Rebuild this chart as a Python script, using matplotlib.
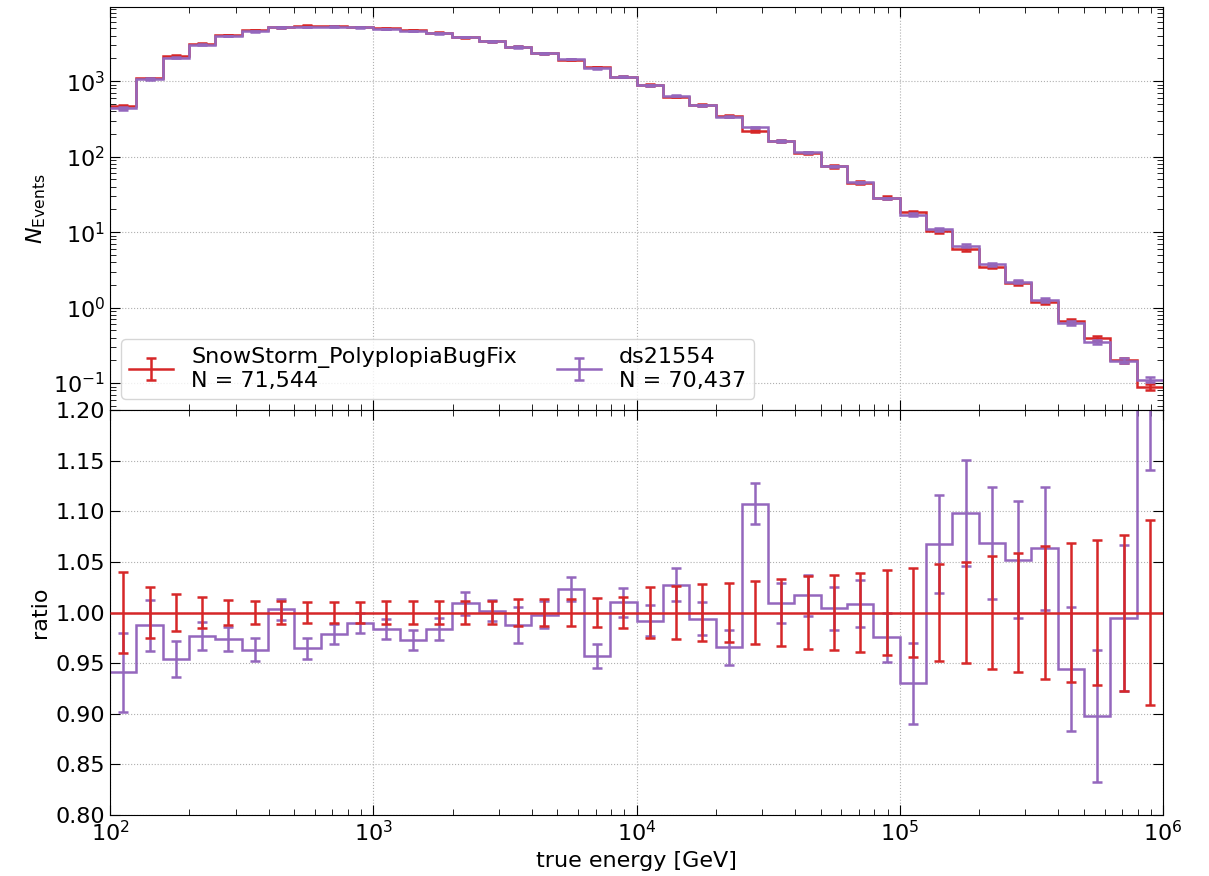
import numpy as np
import matplotlib.pyplot as plt

# binning: 10 bins per decade, 1e2 - 1e6 GeV
edges = np.logspace(2, 6, 41)
centers = np.sqrt(edges[:-1] * edges[1:])

labels = ['SnowStorm_PolyplopiaBugFix\nN = 71,544', 'ds21554\nN = 70,437']

# event counts per bin
counts_ref = [465, 1085, 2150, 3110, 4080, 4750, 5150, 5420, 5360, 5200,
              5000, 4750, 4390, 3800, 3375, 2875, 2350, 1920, 1540, 1140,
              887, 624, 485, 348, 221, 160, 112, 74, 45.2, 28.6,
              18.2, 10.2, 6.0, 3.5, 2.1, 1.2, 0.665, 0.392, 0.200, 0.0894]
counts_ds = [437.6, 1071.4, 2051.1, 3038.5, 3973.9, 4576.6, 5165.5, 5227.6, 5247.4, 5148,
             4920, 4621.8, 4319.8, 3834.2, 3381.8, 2839.1, 2345.3, 1964.2, 1473.8, 1151.4,
             879.9, 641.2, 482.1, 336.0, 244.8, 161.5, 113.9, 74.3, 45.6, 27.9,
             16.93, 10.89, 6.59, 3.74, 2.21, 1.276, 0.628, 0.352, 0.199, 0.1109]

# relative errors (as seen in the ratio panel, relative to reference)
relerr_ref = [0.040, 0.025, 0.018, 0.015, 0.0125, 0.0115, 0.011, 0.0107, 0.0107, 0.0107,
              0.011, 0.011, 0.0115, 0.0115, 0.011, 0.013, 0.013, 0.013, 0.014, 0.015,
              0.025, 0.026, 0.028, 0.029, 0.031, 0.0335, 0.036, 0.037, 0.039, 0.042,
              0.044, 0.048, 0.050, 0.056, 0.059, 0.066, 0.069, 0.072, 0.077, 0.091]
relerr_ds = [0.039, 0.025, 0.018, 0.014, 0.012, 0.011, 0.0105, 0.010, 0.010, 0.010,
             0.010, 0.010, 0.011, 0.011, 0.0105, 0.0175, 0.013, 0.012, 0.012, 0.014,
             0.015, 0.0165, 0.0165, 0.017, 0.020, 0.020, 0.0205, 0.0215, 0.023, 0.024,
             0.040, 0.048, 0.052, 0.055, 0.058, 0.061, 0.0615, 0.065, 0.072, 0.10]

c_ref = '#d62728'
c_ds = '#9467bd'
fs = 16

counts_ref = np.array(counts_ref)
counts_ds = np.array(counts_ds)
err_ref = counts_ref * np.array(relerr_ref)
err_ds = counts_ref * np.array(relerr_ds)

ratio_ref = counts_ref / counts_ref
ratio_ds = counts_ds / counts_ref

fig = plt.figure(figsize=(12.09, 8.76), dpi=100)
ax1 = fig.add_axes([0.091, 0.532, 0.871, 0.460])
ax2 = fig.add_axes([0.091, 0.0696, 0.871, 0.4623], sharex=ax1)

lw = 1.8
cap = 3.5

def draw(ax, vals, errs, color, z):
	ax.stairs(vals, edges, baseline=None, color=color, lw=lw, zorder=z)
	ax.errorbar(centers, vals, yerr=errs, fmt='none', ecolor=color, elinewidth=lw,
				capsize=cap, capthick=lw, zorder=z)

# top panel
draw(ax1, counts_ref, err_ref, c_ref, 2)
draw(ax1, counts_ds, err_ds, c_ds, 3)
ax1.set_yscale('log')
ax1.set_xscale('log')
ax1.set_xlim(1e2, 1e6)
ax1.set_ylim(0.044, 9.6e3)
ax1.set_ylabel(r'$N_\mathrm{Events}$', fontsize=fs)

# legend handles
h1 = ax1.errorbar([np.nan], [np.nan], yerr=[np.nan], color=c_ref, lw=lw, capsize=cap, capthick=lw)
h2 = ax1.errorbar([np.nan], [np.nan], yerr=[np.nan], color=c_ds, lw=lw, capsize=cap, capthick=lw)
ax1.legend([h1, h2], labels, loc='lower left', ncol=2, fontsize=fs,
		   borderaxespad=0.5, columnspacing=1.8, handlelength=2.0,
		   labelspacing=0.2, borderpad=0.35)

# ratio panel
draw(ax2, ratio_ds, np.array(relerr_ds), c_ds, 2)
draw(ax2, ratio_ref, np.array(relerr_ref), c_ref, 3)
ax2.set_ylim(0.80, 1.20)
ax2.set_yticks(np.arange(0.80, 1.201, 0.05))
ax2.yaxis.set_major_formatter(plt.FormatStrFormatter('%.2f'))
ax2.set_ylabel('ratio', fontsize=fs)
ax2.set_xlabel('true energy [GeV]', fontsize=fs)

for ax in [ax1, ax2]:
	ax.grid(True, which='major', linestyle=':', color='#b0b0b0', lw=0.8)
	ax.tick_params(which='both', direction='in', top=True, right=True, labelsize=fs)
	ax.tick_params(which='major', length=7)
	ax.tick_params(which='minor', length=4)
ax2.minorticks_off()
ax2.xaxis.set_minor_locator(plt.matplotlib.ticker.LogLocator(subs=np.arange(2, 10)))
ax2.tick_params(which='minor', direction='in', top=True, length=4)
plt.setp(ax1.get_xticklabels(), visible=False)

fig.savefig('out.png', dpi=100)
